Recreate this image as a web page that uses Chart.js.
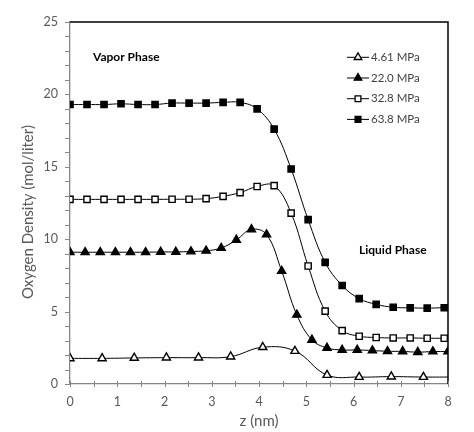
<!DOCTYPE html>
<html><head><meta charset="utf-8">
<script src="https://cdn.jsdelivr.net/npm/chart.js@4.4.0/dist/chart.umd.min.js"></script>
<style>html,body{margin:0;padding:0;background:#fff;}#wrap{width:474px;height:432px;}</style>
</head><body><div id="wrap"><canvas id="c" width="474" height="432"></canvas></div>
<script>
// z positions (nm) and oxygen densities (mol/liter)
const zSquares = [0, 0.36, 0.72, 1.08, 1.44, 1.8, 2.16, 2.52, 2.88, 3.24, 3.6, 3.96, 4.32, 4.68, 5.04, 5.4, 5.76, 6.12, 6.48, 6.84, 7.2, 7.56, 7.92];
const density638 = [19.3, 19.3, 19.3, 19.35, 19.3, 19.3, 19.4, 19.4, 19.4, 19.45, 19.45, 19.0, 17.6, 14.85, 11.35, 8.4, 6.8, 5.9, 5.5, 5.3, 5.26, 5.24, 5.27];
const density328 = [12.75, 12.75, 12.75, 12.75, 12.75, 12.75, 12.76, 12.76, 12.8, 12.96, 13.22, 13.64, 13.7, 11.8, 8.15, 5.03, 3.69, 3.3, 3.21, 3.18, 3.18, 3.16, 3.16];
const zFilledTri = [0, 0.32, 0.64, 0.96, 1.28, 1.6, 1.92, 2.24, 2.56, 2.88, 3.2, 3.52, 3.84, 4.16, 4.48, 4.8, 5.12, 5.44, 5.76, 6.08, 6.4, 6.72, 7.04, 7.36, 7.68, 8.0];
const density220 = [9.1, 9.1, 9.1, 9.1, 9.1, 9.1, 9.12, 9.12, 9.15, 9.2, 9.39, 9.95, 10.68, 10.32, 7.8, 4.78, 3.05, 2.49, 2.35, 2.35, 2.31, 2.26, 2.25, 2.2, 2.24, 2.24];
const zOpenTri = [0, 0.68, 1.36, 2.04, 2.72, 3.4, 4.08, 4.76, 5.44, 6.12, 6.8, 7.48, 8.16];
const density461 = [1.77, 1.77, 1.8, 1.82, 1.82, 1.89, 2.54, 2.28, 0.62, 0.48, 0.51, 0.48, 0.48];
const seriesLabels = ['4.61 MPa', '22.0 MPa', '32.8 MPa', '63.8 MPa'];
const xTickValues = [0, 1, 2, 3, 4, 5, 6, 7, 8];
const yTickValues = [0, 5, 10, 15, 20, 25];
const phaseLabels = ['Vapor Phase', 'Liquid Phase'];
const yTitle = 'Oxygen Density (mol/liter)';
const xTitle = 'z (nm)';

function pts(xs, ys) { return xs.map((x, i) => ({x: x, y: ys[i]})); }

const FONT = 'Lato, "Open Sans", sans-serif';
const GRAY = '#868686';
const TXT = '#595959';

const datasets = [
  {label: seriesLabels[0], data: pts(zOpenTri, density461), pointStyle: 'triangle', pointBackgroundColor: '#fff', pointRadius: 4.7},
  {label: seriesLabels[1], data: pts(zFilledTri, density220), pointStyle: 'triangle', pointBackgroundColor: '#000', pointRadius: 4.7},
  {label: seriesLabels[2], data: pts(zSquares, density328), pointStyle: 'rect', pointBackgroundColor: '#fff', pointRadius: 4.4},
  {label: seriesLabels[3], data: pts(zSquares, density638), pointStyle: 'rect', pointBackgroundColor: '#000', pointRadius: 4.4}
].map(d => Object.assign({
  showLine: true, borderColor: '#000', borderWidth: 1, tension: 0.4,
  pointBorderColor: '#000', pointBorderWidth: 1.4, pointHoverRadius: 4.5
}, d));

const decor = {
  id: 'decor',
  afterDraw(chart) {
    const ctx = chart.ctx, a = chart.chartArea;
    const xs = chart.scales.x, ys = chart.scales.y;
    ctx.save();
    // plot frame top/right
    ctx.strokeStyle = '#000'; ctx.lineWidth = 1.5;
    ctx.beginPath();
    ctx.moveTo(a.left, a.top); ctx.lineTo(a.right, a.top); ctx.lineTo(a.right, a.bottom);
    ctx.stroke();
    // tick marks
    ctx.strokeStyle = GRAY; ctx.lineWidth = 1;
    for (let v = 0; v <= 8.001; v += 0.5) {
      const px = Math.round(xs.getPixelForValue(v)) + 0.5;
      ctx.beginPath(); ctx.moveTo(px, a.bottom - 3); ctx.lineTo(px, a.bottom + 3); ctx.stroke();
    }
    for (let v = 0; v <= 25; v += 1) {
      const py = Math.round(ys.getPixelForValue(v)) + 0.5;
      ctx.beginPath(); ctx.moveTo(a.left - 5, py); ctx.lineTo(a.left, py); ctx.stroke();
    }
    // axis titles
    ctx.fillStyle = TXT;
    ctx.font = '15px ' + FONT;
    ctx.textAlign = 'center'; ctx.textBaseline = 'middle';
    ctx.fillText(xTitle, (a.left + a.right) / 2, 421);
    ctx.save();
    ctx.translate(28, 212);
    ctx.rotate(-Math.PI / 2);
    ctx.fillText(yTitle, 0, 0);
    ctx.restore();
    // phase labels
    ctx.fillStyle = '#000';
    ctx.font = 'bold 12px ' + FONT;
    ctx.textAlign = 'left'; ctx.textBaseline = 'middle';
    ctx.fillText(phaseLabels[0], 93, 57);
    ctx.fillText(phaseLabels[1], 359, 250);
    // legend
    chart.data.datasets.forEach((ds, i) => {
      const y = 57.3 + i * 20.7;
      ctx.strokeStyle = '#000'; ctx.lineWidth = 1;
      ctx.beginPath(); ctx.moveTo(347, y); ctx.lineTo(369, y); ctx.stroke();
      ctx.fillStyle = ds.pointBackgroundColor; ctx.strokeStyle = '#000'; ctx.lineWidth = 1.3;
      Chart.helpers.drawPoint(ctx, {pointStyle: ds.pointStyle, radius: ds.pointRadius - 0.3, borderWidth: 1.3}, 358, y);
      ctx.fillStyle = '#404040';
      ctx.font = '11.5px ' + FONT;
      ctx.textAlign = 'left'; ctx.textBaseline = 'middle';
      ctx.fillText(ds.label, 371, y);
    });
    ctx.restore();
  }
};

new Chart(document.getElementById('c'), {
  type: 'scatter',
  data: {datasets: datasets},
  options: {
    responsive: false, animation: false, devicePixelRatio: 1,
    layout: {padding: {top: 22, right: 26, left: 0, bottom: 0}},
    plugins: {legend: {display: false}, tooltip: {enabled: false}},
    scales: {
      x: {
        type: 'linear', min: 0, max: 8,
        afterBuildTicks: s => { s.ticks = xTickValues.map(v => ({value: v})); },
        afterFit: s => { s.height = 48; },
        ticks: {color: TXT, font: {family: FONT, size: 12.5}, padding: 10},
        grid: {drawOnChartArea: false, drawTicks: false},
        border: {color: GRAY, width: 1.3},
        title: {display: false}
      },
      y: {
        type: 'linear', min: 0, max: 25,
        afterBuildTicks: s => { s.ticks = yTickValues.map(v => ({value: v})); },
        afterFit: s => { s.width = 70; },
        ticks: {color: TXT, font: {family: FONT, size: 12.5}, padding: 12},
        grid: {drawOnChartArea: false, drawTicks: false},
        border: {color: GRAY, width: 1.3},
        title: {display: false}
      }
    }
  },
  plugins: [decor]
});
</script></body></html>
